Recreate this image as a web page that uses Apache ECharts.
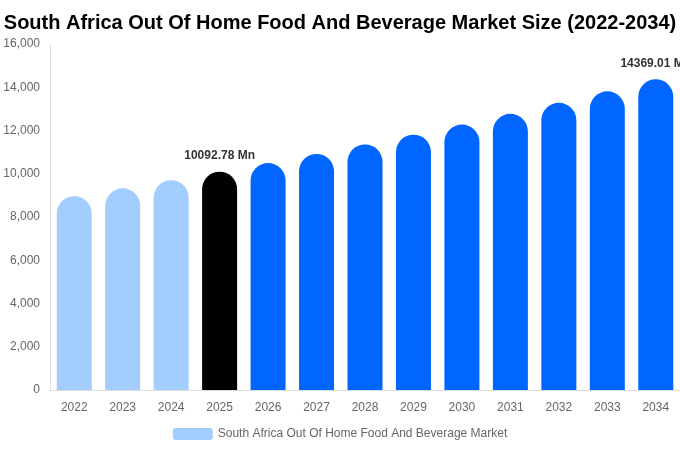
<!DOCTYPE html>
<html>
<head>
<meta charset="utf-8">
<script src="https://cdn.jsdelivr.net/npm/echarts@6/dist/echarts.min.js"></script>
<style>html,body{margin:0;padding:0;background:#fff}#c{width:680px;height:450px}</style>
</head>
<body>
<div id="c"></div>
<script>
var titleText = 'South Africa Out Of Home Food And Beverage Market Size (2022-2034)';
var seriesName = 'South Africa Out Of Home Food And Beverage Market';
var years = ['2022','2023','2024','2025','2026','2027','2028','2029','2030','2031','2032','2033','2034'];
var values = [8965, 9325, 9700, 10092.78, 10495, 10915, 11355, 11805, 12275, 12770, 13280, 13810, 14369.01];
var barColors = ['#a2cdfe','#a2cdfe','#a2cdfe','#000000','#0066ff','#0066ff','#0066ff','#0066ff','#0066ff','#0066ff','#0066ff','#0066ff','#0066ff'];
var labelledIdx = [3, 12];

var chart = echarts.init(document.getElementById('c'));
chart.setOption({
  animation: false,
  title: {
    text: titleText, left: 'center', top: 8,
    textStyle: {fontFamily: 'Liberation Sans', fontWeight: 'bold', fontSize: 20, color: '#000'}
  },
  legend: {
    bottom: 5, left: 'center', itemWidth: 40, itemHeight: 12, itemGap: 6,
    textStyle: {fontFamily: 'Liberation Sans', fontSize: 12, color: '#666'},
    data: [{name: seriesName, itemStyle: {color: '#a2cdfe'}}]
  },
  grid: {left: 50, right: 0, top: 44, bottom: 60},
  xAxis: {
    type: 'category', data: years,
    axisLine: {lineStyle: {color: '#ddd'}},
    axisTick: {show: false},
    axisLabel: {fontFamily: 'Liberation Sans', fontSize: 12, color: '#666', margin: 12}
  },
  yAxis: {
    type: 'value', min: 0, max: 16000, interval: 2000,
    axisLine: {show: true, lineStyle: {color: '#ddd'}},
    splitLine: {show: false},
    axisLabel: {fontFamily: 'Liberation Sans', fontSize: 12, color: '#666', margin: 10,
      formatter: function(v){ return v.toLocaleString('en-US'); }}
  },
  series: [{
    name: seriesName, type: 'bar', barWidth: 35,
    data: values.map(function(v, i){
      var d = {value: v, itemStyle: {color: barColors[i], borderRadius: [17.5,17.5,0,0]}};
      if (labelledIdx.indexOf(i) >= 0) {
        d.label = {show: true, position: 'top', distance: 10,
          formatter: function(p){ return p.value + ' Mn'; },
          fontFamily: 'Liberation Sans', fontWeight: 'bold', fontSize: 12, color: '#333'};
      }
      return d;
    })
  }]
});
</script>
</body>
</html>
